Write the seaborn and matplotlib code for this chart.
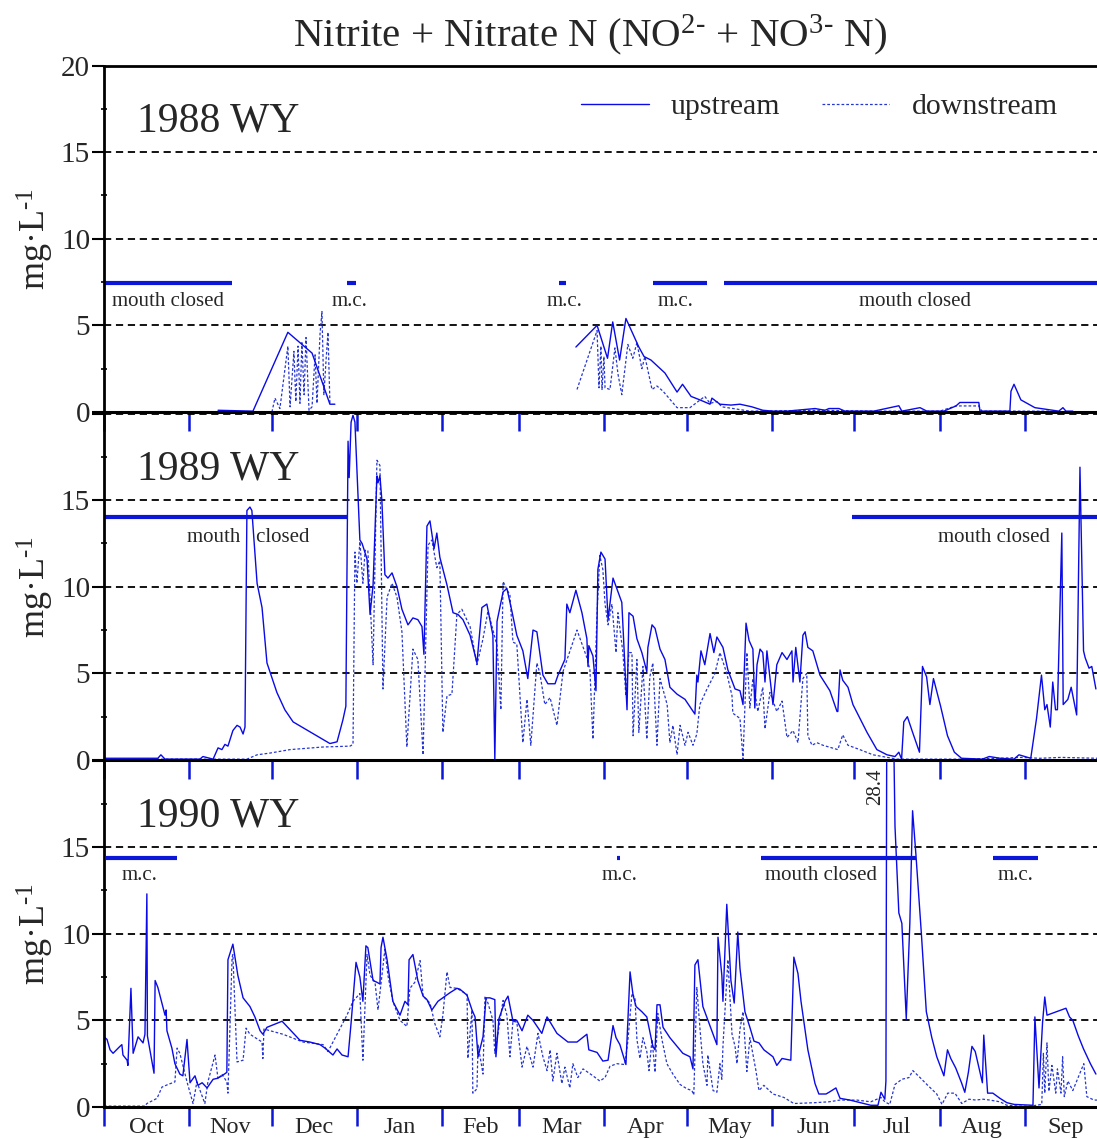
import numpy as np
import pandas as pd
import matplotlib
matplotlib.use("Agg")
import matplotlib.pyplot as plt
import seaborn as sns
from matplotlib.lines import Line2D
from matplotlib.ticker import FixedLocator, FixedFormatter

# ---------------- data (x = day of water year, 0 = 1 Oct) ----------------
MONTHS = ["Oct", "Nov", "Dec", "Jan", "Feb", "Mar", "Apr", "May", "Jun", "Jul", "Aug", "Sep"]
MONTH_DAYS = [31, 30, 31, 31, 28, 31, 30, 31, 30, 31, 31, 30]
YEARS = ["1988 WY", "1989 WY", "1990 WY"]

# 1988 WY
up88_a = [(41.5, 0.1), (54.2, 0.05), (66.9, 4.6), (75.7, 3.4), (82.2, 0.45), (84.0, 0.45)]
up88_b = [(171.7, 3.75), (179.4, 5.0), (180.4, 4.5), (183.2, 3.1), (185.1, 5.2), (187.6, 3.0),
          (189.9, 5.4), (194.6, 3.75), (196.5, 3.2), (199.0, 3.0), (204.1, 2.25), (208.5, 1.15),
          (210.5, 1.6), (213.6, 0.9), (216.8, 0.7), (220.5, 0.45), (221.2, 0.8), (224.1, 0.45),
          (228.1, 0.4), (231.4, 0.45), (235.7, 0.3), (239.7, 0.1), (243.4, 0.05), (248.5, 0.05),
          (258.7, 0.2), (262.3, 0.1), (263.8, 0.2), (267.4, 0.2), (269.6, 0.05), (280.1, 0.05),
          (289.2, 0.36), (290.3, 0.05), (296.9, 0.25), (299.4, 0.05), (305.6, 0.05), (310.0, 0.35),
          (311.4, 0.55), (318.3, 0.55), (318.7, 0.05), (329.6, 0.05), (330.0, 1.2), (331.1, 1.6),
          (331.8, 1.35), (333.6, 0.7), (338.7, 0.25), (347.4, 0.05), (348.9, 0.25), (350.0, 0.05),
          (352.5, 0.05)]
dn88_a = [(61.1, 0.0), (62.2, 0.8), (64.0, 0.2), (66.9, 3.8), (67.7, 0.3), (69.1, 3.5), (69.8, 0.6),
          (70.6, 3.8), (71.3, 0.5), (72.0, 4.0), (72.8, 1.0), (73.5, 4.3), (74.6, 0.1), (75.7, 0.3),
          (76.8, 3.3), (77.5, 0.5), (78.6, 4.5), (79.3, 5.8), (80.0, 1.0), (80.8, 3.0), (81.5, 4.6),
          (82.2, 0.5)]
dn88_b = [(172.1, 1.3), (179.4, 4.7), (180.1, 1.4), (180.8, 3.8), (181.2, 1.3), (181.9, 3.2),
          (182.3, 1.4), (184.1, 1.3), (185.9, 3.7), (187.0, 2.2), (188.4, 1.0), (190.6, 3.9),
          (192.4, 3.1), (193.9, 4.0), (195.7, 2.5), (196.8, 3.2), (199.4, 1.3), (201.2, 1.5),
          (203.4, 1.2), (208.5, 0.25), (213.2, 0.25), (218.6, 0.9), (220.5, 0.5), (223.0, 0.6),
          (224.8, 0.3), (235.0, 0.05), (260.0, 0.1), (280.0, 0.05), (304.1, 0.05), (310.0, 0.35),
          (318.3, 0.35), (319.4, 0.05), (344.2, 0.05)]

# 1989 WY
up89 = [(0.0, 0.1), (19.6, 0.1), (20.7, 0.3), (22.2, 0.05), (34.9, 0.05), (36.0, 0.2), (39.7, 0.05),
        (41.5, 0.7), (42.9, 0.6), (44.0, 0.9), (45.1, 0.8), (46.9, 1.7), (48.4, 2.0), (49.5, 1.9),
        (50.6, 1.5), (51.3, 1.9), (52.0, 14.4), (53.1, 14.6), (53.8, 14.4), (55.7, 10.2), (57.5, 8.8),
        (59.3, 5.6), (62.9, 3.9), (65.8, 2.9), (68.8, 2.2), (82.2, 0.95), (84.8, 1.05), (86.9, 2.3),
        (88.0, 3.1), (88.8, 18.4), (89.2, 16.3), (89.9, 19.5), (90.6, 19.9), (91.3, 19.5), (93.1, 12.7),
        (93.9, 12.5), (95.7, 11.6), (96.8, 8.4), (97.9, 10.1), (99.3, 16.4), (99.7, 16.0), (100.4, 16.4),
        (101.1, 15.0), (102.2, 10.7), (103.3, 10.5), (104.8, 10.8), (106.6, 10.0), (108.4, 8.7),
        (110.6, 7.8), (112.4, 8.2), (114.2, 8.1), (115.7, 7.7), (116.4, 6.1), (117.5, 13.5),
        (118.6, 13.8), (120.1, 12.2), (121.1, 13.1), (122.2, 11.7), (124.8, 10.1), (127.0, 8.5),
        (128.8, 8.4), (130.6, 8.1), (133.2, 7.2), (135.7, 5.6), (137.5, 8.8), (139.3, 9.0),
        (141.5, 7.2), (142.2, 0.0), (143.0, 8.0), (145.2, 9.7), (146.6, 9.9), (148.4, 8.6),
        (150.2, 7.2), (152.4, 6.3), (154.2, 4.7), (156.1, 7.5), (157.5, 7.4), (159.7, 4.9),
        (161.5, 4.4), (164.1, 4.4), (165.2, 4.9), (167.7, 5.8), (168.4, 9.0), (169.5, 8.5),
        (171.7, 9.8), (173.9, 8.5), (175.7, 7.0), (176.1, 5.4), (176.4, 6.6), (177.9, 6.0),
        (179.0, 4.0), (179.7, 11.0), (180.8, 12.0), (182.3, 11.6), (183.4, 8.1), (185.2, 10.5),
        (188.4, 9.1), (190.3, 2.9), (191.0, 8.5), (192.5, 8.3), (193.9, 7.0), (195.7, 6.2),
        (197.5, 5.1), (197.9, 6.5), (199.4, 7.8), (200.5, 7.6), (202.3, 6.4), (204.1, 5.8),
        (205.9, 4.2), (208.5, 3.8), (211.4, 3.5), (215.0, 2.65), (215.7, 4.9), (216.1, 4.5),
        (217.2, 6.3), (218.6, 5.5), (220.5, 7.3), (221.9, 6.2), (223.0, 7.1), (225.2, 6.5),
        (227.0, 5.2), (229.6, 4.1), (231.4, 4.0), (232.5, 3.2), (233.6, 7.9), (234.7, 6.9),
        (236.1, 6.4), (236.8, 3.0), (237.6, 5.5), (238.7, 6.4), (239.7, 6.2), (240.5, 4.5),
        (241.2, 6.3), (243.4, 3.2), (244.8, 5.5), (246.7, 6.2), (248.5, 5.8), (250.3, 6.3),
        (250.7, 4.5), (251.7, 6.5), (253.2, 4.5), (254.3, 7.2), (255.1, 7.4), (256.1, 6.5),
        (257.9, 6.3), (260.5, 4.9), (264.1, 4.0), (266.7, 2.8), (267.0, 2.8), (267.8, 5.2),
        (268.8, 4.6), (270.7, 4.2), (272.5, 3.2), (277.6, 1.6), (281.2, 0.6), (284.9, 0.3),
        (287.8, 0.2), (289.2, 0.45), (290.2, 0.05), (291.0, 2.2), (292.3, 2.5), (294.2, 1.6),
        (296.7, 0.45), (297.8, 5.4), (299.3, 4.8), (300.5, 3.2), (301.8, 4.7), (304.4, 3.1),
        (306.9, 1.4), (309.4, 0.45), (312.0, 0.1), (319.6, 0.05), (322.1, 0.2), (326.0, 0.1),
        (331.1, 0.05), (332.9, 0.3), (337.2, 0.1), (339.3, 2.4), (341.1, 4.9), (342.3, 2.9),
        (343.1, 3.2), (344.3, 1.9), (345.2, 4.5), (346.2, 2.9), (346.9, 2.9), (348.5, 13.1),
        (349.0, 3.2), (350.7, 3.5), (351.9, 4.2), (353.9, 2.6), (355.1, 16.9), (356.4, 6.3),
        (357.0, 5.9), (358.4, 5.3), (359.4, 5.4), (360.9, 4.1)]
dn89 = [(0.0, 0.05), (52.0, 0.05), (55.7, 0.3), (60.4, 0.4), (67.7, 0.6), (79.7, 0.75), (89.5, 0.8),
        (90.6, 0.9), (91.3, 12.0), (92.0, 10.2), (93.1, 12.6), (94.2, 10.2), (95.0, 12.1), (96.0, 12.1),
        (97.9, 5.5), (99.3, 17.3), (100.4, 17.0), (101.5, 4.1), (103.0, 9.4), (104.8, 10.2), (106.6, 9.4),
        (108.4, 7.4), (110.2, 0.75), (112.4, 6.4), (114.2, 5.8), (116.1, 0.3), (117.9, 12.4),
        (119.3, 12.7), (121.1, 11.1), (122.2, 11.5), (123.3, 1.6), (124.8, 3.7), (126.6, 3.8),
        (128.4, 8.4), (130.2, 8.7), (133.2, 7.7), (135.7, 5.5), (137.9, 7.0), (139.7, 8.6),
        (143.0, 6.6), (144.4, 2.9), (145.2, 10.3), (147.7, 9.5), (148.8, 6.8), (150.2, 6.7),
        (152.4, 1.0), (153.9, 3.5), (155.3, 0.85), (157.5, 5.6), (158.6, 5.0), (160.4, 3.2),
        (162.3, 3.6), (164.8, 2.0), (167.0, 5.1), (172.1, 7.5), (175.7, 5.9), (176.8, 5.2),
        (177.9, 1.2), (179.4, 8.5), (180.4, 11.8), (181.5, 11.0), (182.3, 9.0), (183.4, 7.8),
        (184.8, 9.0), (186.3, 6.2), (187.0, 8.5), (188.8, 6.2), (189.9, 3.7), (191.0, 6.2),
        (192.1, 6.2), (192.5, 1.4), (193.9, 5.8), (194.6, 1.6), (196.1, 5.4), (197.5, 1.2),
        (198.6, 4.8), (199.7, 5.6), (201.2, 0.85), (202.3, 4.7), (204.9, 3.2), (205.9, 1.0),
        (207.0, 2.0), (208.5, 0.3), (209.6, 2.0), (211.4, 0.85), (212.5, 1.6), (214.3, 0.85),
        (215.7, 1.5), (216.8, 3.2), (219.4, 4.1), (222.3, 5.0), (224.1, 6.2), (226.6, 5.0),
        (228.5, 3.7), (228.8, 2.7), (231.4, 2.4), (232.5, 0.05), (233.9, 6.2), (235.0, 3.0),
        (236.1, 4.7), (237.9, 2.8), (239.7, 4.2), (240.5, 1.8), (242.3, 3.9), (244.8, 2.8),
        (246.7, 3.4), (248.5, 1.3), (250.7, 1.7), (252.5, 1.0), (254.3, 4.7), (255.7, 5.0),
        (256.1, 1.4), (257.6, 0.85), (259.4, 1.0), (261.6, 0.85), (267.0, 0.6), (268.8, 1.45),
        (270.7, 0.85), (275.0, 0.6), (279.8, 0.3), (284.9, 0.15), (288.5, 0.05), (311.3, 0.05),
        (326.0, 0.1), (333.2, 0.15), (340.5, 0.1), (348.2, 0.15), (361.3, 0.1)]

# 1990 WY
up90 = [(0.0, 4.05), (1.1, 3.9), (2.2, 3.3), (3.3, 3.1), (5.8, 3.5), (6.5, 3.6), (6.9, 3.0), (8.4, 2.7),
        (8.7, 2.4), (9.8, 6.85), (10.6, 3.1), (12.4, 4.05), (14.2, 3.7), (14.9, 4.2), (15.6, 12.3),
        (15.8, 4.1), (16.7, 3.3), (18.2, 1.95), (18.6, 7.3), (19.6, 6.9), (22.2, 5.3), (22.6, 5.6),
        (22.9, 4.4), (24.7, 3.4), (25.8, 2.5), (27.6, 1.9), (28.7, 1.8), (30.2, 3.9), (31.3, 1.4),
        (33.1, 1.8), (34.2, 1.25), (35.7, 1.4), (37.5, 1.1), (39.7, 1.6), (41.1, 1.65), (42.9, 1.8),
        (44.7, 2.0), (45.1, 8.5), (46.9, 9.4), (48.7, 7.6), (50.6, 6.3), (53.1, 5.8), (54.9, 5.2),
        (56.8, 4.4), (57.8, 4.2), (59.3, 4.6), (64.8, 4.95), (71.3, 3.85), (74.9, 3.75), (78.6, 3.6),
        (80.4, 3.4), (83.3, 3.0), (84.8, 3.35), (86.6, 3.0), (88.8, 2.9), (89.9, 4.85), (91.7, 8.35),
        (93.1, 7.5), (94.2, 6.1), (95.3, 9.3), (96.0, 9.2), (97.9, 7.3), (99.3, 7.2), (100.4, 7.1),
        (100.8, 9.2), (101.5, 9.8), (103.0, 8.5), (105.1, 6.1), (107.7, 5.3), (109.5, 6.1),
        (110.6, 5.9), (111.0, 8.5), (112.4, 8.8), (114.2, 7.3), (116.1, 6.4), (117.5, 6.2),
        (119.3, 5.6), (121.5, 6.1), (125.9, 6.6), (128.4, 6.85), (129.5, 6.8), (132.1, 6.45),
        (133.9, 5.6), (135.0, 5.2), (136.1, 2.9), (137.9, 4.05), (139.0, 6.3), (140.4, 6.3),
        (142.2, 6.2), (142.6, 2.9), (143.7, 5.1), (145.9, 6.1), (147.0, 6.4), (148.8, 4.95),
        (150.2, 5.0), (152.1, 4.4), (154.2, 5.3), (156.1, 5.0), (159.3, 4.25), (161.2, 5.2),
        (164.8, 4.25), (168.8, 3.75), (172.1, 3.75), (175.7, 4.2), (176.4, 3.3), (179.4, 3.15),
        (181.5, 2.65), (183.4, 2.7), (185.2, 4.7), (186.3, 4.0), (187.7, 3.6), (189.9, 2.45),
        (191.4, 7.8), (192.5, 6.45), (193.6, 5.8), (195.7, 5.5), (197.5, 5.2), (199.7, 3.5),
        (200.5, 3.3), (201.2, 5.9), (202.3, 5.9), (203.4, 4.6), (205.9, 4.0), (208.5, 3.5),
        (210.6, 3.1), (213.2, 2.9), (214.3, 2.2), (215.0, 8.2), (216.1, 8.5), (217.9, 5.8),
        (221.6, 4.2), (223.0, 3.6), (223.4, 9.8), (224.8, 7.6), (225.2, 6.1), (226.6, 11.7),
        (228.1, 7.3), (229.3, 6.0), (230.6, 10.1), (231.4, 8.0), (233.2, 5.5), (235.0, 4.6),
        (236.5, 3.8), (238.3, 3.7), (240.1, 3.3), (243.4, 2.9), (244.8, 2.4), (246.7, 2.8),
        (249.9, 2.7), (251.0, 8.65), (252.5, 7.7), (253.6, 6.1), (256.1, 3.3), (258.7, 1.35),
        (260.1, 0.75), (262.7, 0.75), (263.8, 0.85), (266.3, 1.1), (267.8, 0.5), (271.4, 0.4),
        (273.9, 0.3), (279.0, 0.1), (281.6, 0.1), (282.7, 0.85), (284.1, 0.45), (284.5, 1.5),
        (284.9, 28.4), (286.7, 28.4), (287.8, 16.2), (289.2, 11.2), (290.3, 10.6), (291.9, 5.1),
        (293.2, 10.6), (294.2, 17.1), (295.4, 14.6), (297.4, 10.0), (299.2, 5.5), (301.2, 4.0),
        (303.0, 2.9), (305.6, 1.8), (306.9, 3.3), (308.1, 2.8), (309.9, 2.25), (312.0, 1.4),
        (313.2, 0.85), (314.5, 2.0), (315.8, 3.5), (317.0, 3.2), (319.6, 1.4), (320.1, 4.15),
        (321.5, 0.8), (323.4, 0.8), (326.0, 0.5), (328.5, 0.25), (331.1, 0.15), (338.0, 0.1),
        (338.7, 5.2), (340.2, 1.1), (341.5, 4.9), (342.3, 6.35), (343.1, 5.3), (350.0, 5.7),
        (351.3, 5.2), (352.5, 5.0), (354.5, 4.1), (356.4, 3.35), (358.9, 2.5), (360.9, 1.9)]
dn90 = [(0.0, 0.05), (14.9, 0.05), (15.6, 0.2), (19.3, 0.5), (21.1, 1.15), (23.3, 1.3), (25.8, 1.45),
        (26.6, 3.4), (27.6, 3.1), (30.2, 1.45), (32.4, 0.2), (33.8, 1.45), (36.7, 0.2), (37.8, 1.45),
        (40.4, 3.0), (41.5, 1.6), (42.9, 1.9), (44.7, 1.45), (45.1, 0.8), (46.6, 8.65), (46.9, 8.8),
        (48.4, 2.6), (50.6, 2.7), (51.7, 4.55), (53.1, 4.2), (57.5, 3.75), (57.8, 2.8), (58.2, 4.5),
        (65.1, 4.2), (72.4, 3.75), (79.7, 3.6), (81.5, 3.2), (88.4, 5.3), (90.6, 6.1), (93.1, 6.55),
        (94.2, 2.7), (95.7, 8.8), (96.8, 7.6), (98.6, 7.2), (99.7, 5.6), (102.2, 9.1), (103.3, 7.6),
        (105.1, 6.1), (107.7, 5.0), (110.2, 4.65), (111.3, 6.85), (113.1, 7.2), (115.0, 8.45),
        (116.1, 6.4), (118.6, 6.0), (120.4, 4.8), (122.2, 4.05), (123.3, 5.3), (124.8, 7.8),
        (125.9, 6.9), (128.4, 6.85), (132.1, 6.5), (132.4, 2.8), (133.9, 5.6), (134.2, 0.8),
        (135.7, 1.05), (136.1, 3.6), (137.9, 1.9), (138.6, 6.4), (139.7, 6.0), (141.5, 5.0),
        (142.2, 3.1), (143.3, 4.2), (145.2, 6.15), (146.6, 5.3), (147.7, 2.9), (148.8, 4.95),
        (150.2, 4.9), (152.1, 2.3), (153.9, 3.5), (156.1, 2.3), (157.9, 4.25), (159.7, 2.9),
        (161.2, 2.1), (162.3, 3.3), (163.3, 1.5), (164.8, 3.1), (166.6, 1.35), (167.7, 2.3),
        (169.5, 1.1), (170.6, 2.5), (172.4, 1.7), (174.3, 2.2), (177.9, 1.8), (180.4, 1.5),
        (182.3, 1.7), (184.1, 2.35), (186.6, 2.5), (189.5, 2.45), (190.6, 3.8), (192.1, 6.55),
        (193.2, 6.3), (193.9, 3.9), (195.0, 2.8), (196.1, 4.0), (197.5, 3.2), (198.3, 2.1),
        (199.4, 3.9), (200.5, 2.0), (201.5, 5.4), (203.0, 3.9), (204.8, 2.5), (207.0, 1.9),
        (209.6, 1.3), (212.1, 1.05), (213.9, 0.95), (214.6, 0.7), (215.7, 6.9), (216.8, 4.6),
        (217.9, 2.5), (219.4, 1.25), (219.7, 3.0), (221.6, 0.95), (223.0, 0.85), (224.1, 2.5),
        (224.8, 1.6), (225.2, 3.5), (227.0, 8.5), (228.5, 4.2), (229.6, 3.5), (230.3, 2.5),
        (231.4, 4.5), (232.5, 5.5), (233.9, 2.05), (235.0, 4.0), (237.2, 2.1), (238.3, 0.95),
        (240.1, 1.25), (243.4, 0.75), (247.4, 0.55), (251.0, 0.2), (258.7, 0.25), (263.8, 0.3),
        (267.8, 0.4), (273.9, 0.4), (279.0, 0.3), (282.7, 0.55), (284.1, 0.3), (285.9, 0.15),
        (287.8, 1.3), (290.3, 1.6), (292.9, 1.7), (294.3, 2.1), (296.9, 1.7), (299.4, 1.3),
        (303.0, 0.75), (304.9, 0.15), (307.0, 0.8), (309.6, 0.8), (312.1, 0.2), (314.7, 0.45),
        (317.2, 0.4), (319.8, 0.45), (322.3, 0.4), (326.0, 0.3), (328.5, 0.1), (333.6, 0.05),
        (337.2, 0.05), (341.2, 0.15), (341.8, 3.1), (342.3, 0.8), (343.1, 3.7), (343.8, 0.9),
        (344.9, 2.4), (346.3, 0.8), (346.9, 2.2), (348.2, 0.8), (348.8, 2.9), (349.4, 0.6),
        (350.7, 1.5), (352.5, 0.95), (356.5, 2.5), (357.6, 0.6), (360.2, 0.4), (361.3, 0.4)]

# mouth-closed periods (start day, end day) and label positions (day, text)
mc88 = [(0.0, 46.6), (88.4, 91.7), (165.5, 168.0), (199.7, 219.4), (225.6, 361.3)]
mc88_labels = [(23.3, "mouth closed"), (89.5, "m.c."), (167.7, "m.c."), (208.0, "m.c."), (294.9, "mouth closed")]
mc89 = [(0.0, 88.8), (272.3, 361.3)]
mc89_labels = [(52.4, "mouth   closed"), (324.0, "mouth closed")]
mc90 = [(0.7, 26.6), (186.6, 187.6), (239.0, 295.4), (323.4, 339.8)]
mc90_labels = [(13.1, "m.c."), (187.4, "m.c."), (260.9, "mouth closed"), (331.6, "m.c.")]
MC_LEVEL = [7.45, 14.0, 14.4]
MC_LABEL_LEVEL = [6.35, 12.85, 13.35]

# ---------------- styling ----------------
sns.set_theme(style="white")
plt.rcParams["font.family"] = ["Liberation Serif", "DejaVu Serif"]
plt.rcParams["mathtext.fontset"] = "custom"
plt.rcParams["mathtext.rm"] = "Liberation Serif"
plt.rcParams["mathtext.it"] = "Liberation Serif:italic"
plt.rcParams["mathtext.default"] = "regular"
plt.rcParams["axes.unicode_minus"] = False

UP_COLOR = "#0a0ae6"
DN_COLOR = "#2636d2"
BAR_COLOR = "#0b16d8"
DN_DASH = (0, (2.2, 1.6))

fig = plt.figure(figsize=(10.97, 11.39), dpi=100)
fig.patch.set_facecolor("white")
FW, FH = 1097.0, 1139.0
left = 104 / FW
width = 993 / FW
height = 346.5 / FH
bottoms = [(FH - 412) / FH, (FH - 760) / FH, (FH - 1107) / FH]

month_starts = np.concatenate([[0], np.cumsum(MONTH_DAYS)[:-1]])
month_mids = month_starts + np.array(MONTH_DAYS) / 2.0

up_series = [[up88_a, up88_b], [up89], [up90]]
dn_series = [[dn88_a, dn88_b], [dn89], [dn90]]
mc_series = [mc88, mc89, mc90]
mc_labels = [mc88_labels, mc89_labels, mc90_labels]

axes = []
for i in range(3):
    ax = fig.add_axes([left, bottoms[i], width, height])
    ax.patch.set_alpha(0)
    ax.set_xlim(0, 361.3)
    ax.set_ylim(0, 20)

    # grid
    for g in [5, 10, 15, 20]:
        ax.axhline(g, color="black", lw=1.3, ls=(0, (4, 2.6)), zorder=1)

    for seg in dn_series[i]:
        df = pd.DataFrame(seg, columns=["day", "val"])
        sns.lineplot(data=df, x="day", y="val", ax=ax, estimator=None, sort=False,
                     color=DN_COLOR, lw=0.9, linestyle=DN_DASH, zorder=3)
    for seg in up_series[i]:
        df = pd.DataFrame(seg, columns=["day", "val"])
        sns.lineplot(data=df, x="day", y="val", ax=ax, estimator=None, sort=False,
                     color=UP_COLOR, lw=1.0, zorder=4)

    # mouth-closed bars and labels
    for (s, e) in mc_series[i]:
        ax.hlines(MC_LEVEL[i], s, e, color=BAR_COLOR, lw=3.0, zorder=5)
    for (d, t) in mc_labels[i]:
        ax.text(d, MC_LABEL_LEVEL[i], t, ha="center", va="center", fontsize=15, zorder=6)

    ax.text(12.0, 16.8, YEARS[i], ha="left", va="center", fontsize=30)

    # spines
    ax.spines["right"].set_visible(False)
    ax.spines["top"].set_visible(i == 0)
    ax.spines["top"].set_linewidth(2.0)
    ax.spines["left"].set_linewidth(2.0)
    ax.spines["bottom"].set_linewidth(2.2)
    for sp in ax.spines.values():
        sp.set_color("black")
        sp.set_zorder(7)

    # y ticks
    ax.yaxis.set_major_locator(FixedLocator([0, 5, 10, 15, 20]))
    ylabels = ["0", "5", "10", "15", "20"] if i == 0 else ["0", "5", "10", "15", ""]
    ax.yaxis.set_major_formatter(FixedFormatter(ylabels))
    ax.yaxis.set_minor_locator(FixedLocator([2.5, 7.5, 12.5, 17.5]))
    ax.tick_params(axis="y", which="major", direction="out", length=9, width=1.5,
                   color="black", labelsize=21, pad=1, left=True)
    ax.tick_params(axis="y", which="minor", direction="inout", length=5, width=1.2,
                   color="black", left=True)
    ax.set_ylabel(r"mg·L$^{\text{-1}}$", fontsize=26)
    ax.yaxis.set_label_coords(-0.048, 0.5)
    ax.set_xlabel("")

    # x ticks (month starts, blue)
    ax.xaxis.set_major_locator(FixedLocator(month_starts))
    ax.xaxis.set_major_formatter(FixedFormatter([""] * 12))
    ax.tick_params(axis="x", which="major", direction="out", length=14, width=1.8,
                   color=BAR_COLOR, bottom=True)
    if i == 2:
        ax.xaxis.set_minor_locator(FixedLocator(month_mids))
        ax.xaxis.set_minor_formatter(FixedFormatter(MONTHS))
        ax.tick_params(axis="x", which="minor", length=0, labelsize=17.5, pad=7, bottom=True)
    axes.append(ax)

# 28.4 annotation for off-scale peak
axes[2].text(280.6, 18.5, "28.4", rotation=90, ha="center", va="center", fontsize=15)

# legend
handles = [Line2D([], [], color=UP_COLOR, lw=1.0),
           Line2D([], [], color=DN_COLOR, lw=0.9, linestyle=DN_DASH)]
axes[0].legend(handles, ["upstream", "downstream"], loc="center right",
               bbox_to_anchor=(1058 / FW, 1 - 107 / FH), bbox_transform=fig.transFigure,
               frameon=False, ncol=2, fontsize=21.5, handlelength=2.25, handletextpad=0.75,
               columnspacing=1.4, borderpad=0, borderaxespad=0)

fig.text(590 / FW, 1 - 35 / FH, r"Nitrite + Nitrate N (NO$^{\text{2-}}$ + NO$^{\text{3-}}$ N)",
         ha="center", va="center", fontsize=29.5)

fig.savefig("out.png", dpi=100, facecolor="white")
